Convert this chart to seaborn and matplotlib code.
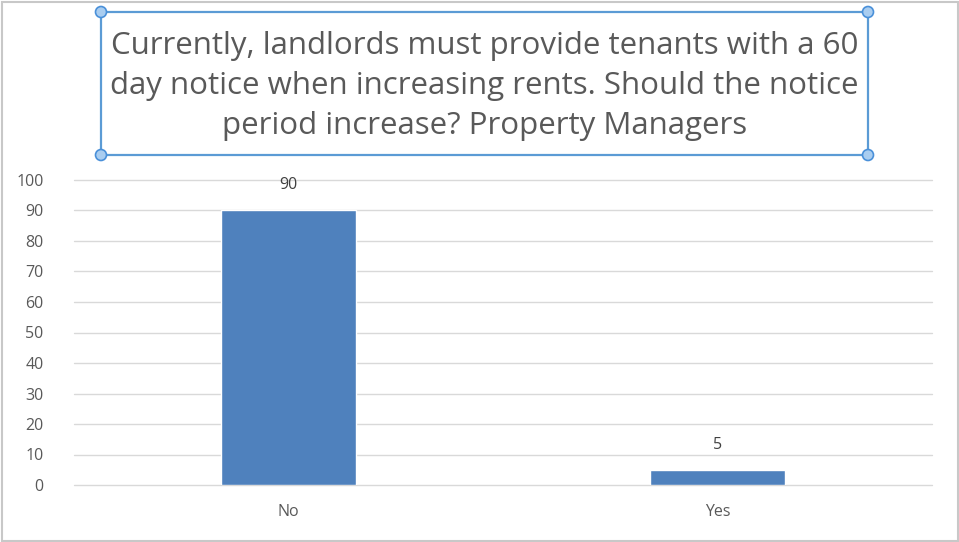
import seaborn as sns
import matplotlib.pyplot as plt
from matplotlib.patches import Rectangle, Ellipse
import pandas as pd

categories = ["No", "Yes"]
counts = [90, 5]
y_ticks = list(range(0, 101, 10))
title_lines = [
    "Currently, landlords must provide tenants with a 60",
    "day notice when increasing rents. Should the notice",
    "period increase? Property Managers",
]

W, H = 959, 542
table = pd.DataFrame({"answer": categories, "count": counts})

sns.set_theme(style="white")
plt.rcParams["font.family"] = ["Open Sans", "DejaVu Sans"]

fig = plt.figure(figsize=(W / 100, H / 100), dpi=100)
ax = fig.add_axes([74 / W, 1 - 485 / H, (932 - 74) / W, (485 - 180) / H])

sns.barplot(data=table, x="answer", y="count", color="#4f81bd", width=0.315,
            saturation=1, ax=ax, zorder=3)

ax.set_ylim(0, 100)
ax.set_yticks(y_ticks)
ax.set_xlim(-0.5, 1.5)
for t in y_ticks:
    ax.axhline(t, color="#d9d9d9", linewidth=1, zorder=1, clip_on=False)
for s in ax.spines.values():
    s.set_visible(False)
ax.set_xlabel("")
ax.set_ylabel("")
ax.tick_params(axis="both", length=0, labelsize=11.5, labelcolor="#595959")
ax.tick_params(axis="x", pad=14)
ax.tick_params(axis="y", pad=22)

for i, v in enumerate(counts):
    ax.annotate(str(v), (i, v), xytext=(0, 18), textcoords="offset points",
                ha="center", va="center", fontsize=11.5, color="#404040")

# outer chart border
fig.patches.append(Rectangle((1.5 / W, 1.5 / H), (W - 3) / W, (H - 3) / H,
                             transform=fig.transFigure, fill=False,
                             edgecolor="#c8c8c8", linewidth=1.5))

# selected title box with handles
bx0, bx1, by0, by1 = 101, 868, 12, 155
fig.patches.append(Rectangle((bx0 / W, 1 - by1 / H), (bx1 - bx0) / W, (by1 - by0) / H,
                             transform=fig.transFigure, fill=False,
                             edgecolor="#5b9bd5", linewidth=1.6))
for hx, hy in [(bx0, by0), (bx1, by0), (bx0, by1), (bx1, by1)]:
    fig.patches.append(Ellipse((hx / W, 1 - hy / H), 11 / W, 11 / H,
                               transform=fig.transFigure, facecolor="#a9cdf0",
                               edgecolor="#4a90d9", linewidth=1.2))

for k, line in enumerate(title_lines):
    fig.text((bx0 + bx1) / 2 / W, 1 - (46 + 40 * k) / H, line, ha="center",
             va="center", fontsize=22.5, color="#595959")

plt.savefig("out.png", dpi=100)
